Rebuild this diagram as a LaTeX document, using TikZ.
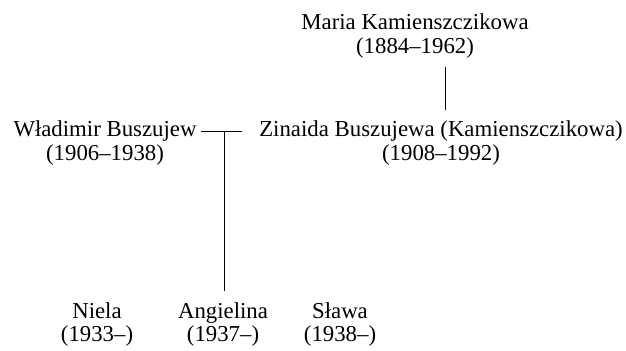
\documentclass[tikz,border=0pt]{standalone}
\usepackage{fontspec}
\setmainfont{Liberation Serif}
\begin{document}
\begin{tikzpicture}[x=0.5pt,y=-0.5pt]
	\tikzset{p/.style={anchor=base, inner sep=0pt, font=\fontsize{11.4}{12}\selectfont}}
  \useasboundingbox (0,0) rectangle (626,351);
  % Personen
  \node[p] (maria) at (415,30) {Maria Kamienszczikowa};
  \node[p] (mariad) at (415,54) {(1884--1962)};
  \node[p] (wlad) at (105,137) {Władimir Buszujew};
  \node[p] (wladd) at (105,161) {(1906--1938)};
  \node[p] (zin) at (441,137) {Zinaida Buszujewa (Kamienszczikowa)};
  \node[p] (zind) at (441,161) {(1908--1992)};
  \node[p] (niela) at (97,319) {Niela};
  \node[p] (nielad) at (97,342) {(1933--)};
  \node[p] (ang) at (223,319) {Angielina};
  \node[p] (angd) at (223,342) {(1937--)};
  \node[p] (slawa) at (340,319) {Sława};
  \node[p] (slawad) at (340,342) {(1938--)};
  \coordinate (ehe) at (224,131);

  % Verbindungen
  \draw[shorten <=4pt, shorten >=5.5pt] ([xshift=15pt]mariad.south) -- ([xshift=15pt]mariad.south |- zin.north);
  \draw ([xshift=2pt]wlad.east) -- ([xshift=-8.5pt]zin.west);
  \draw[shorten >=6pt] (ehe) -- (ehe |- ang.north);
\end{tikzpicture}
\end{document}
